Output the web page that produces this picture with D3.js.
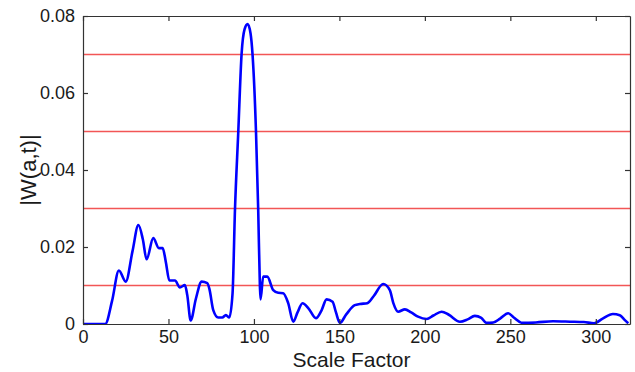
<!DOCTYPE html>
<html>
<head>
<meta charset="utf-8">
<script src="https://cdn.jsdelivr.net/npm/d3@7"></script>
<style>
  body { margin: 0; background: #fff; }
  svg text { font-family: "Liberation Sans", Arial, sans-serif; fill: #1a1a1a; }
</style>
</head>
<body>
<svg id="chart" width="635" height="372"></svg>
<script>
// scale factor (x) and |W(a,t)| (y)
const scaleFactor = [0, 5, 10, 13, 17, 21, 25, 29, 32.4, 35, 37.2, 41.1, 44.4, 46.6, 48.5, 50.5, 53.8, 56.7, 59.6, 61, 63,
  66, 69.4, 72.7, 74, 76.2, 79.1, 81.5, 83.6, 85.6, 87.5, 88.9, 90.8, 92.8, 94.5, 96.3, 98, 99.2, 101.2, 102.5,
  103.5, 103.9, 105.4, 107.8, 111.3, 114.2, 117.1, 120, 123, 125.5, 128.4, 132, 136.3, 139.5, 142.5, 146, 148, 150.3,
  154, 159, 162, 166.3, 170, 175.6, 179.5, 181.5, 184.4, 188.3, 192, 196, 201, 205, 209.8, 214, 220.5, 225, 229.2,
  233, 236, 240, 244, 248.7, 252, 257, 265, 275, 285, 293, 299, 304, 310, 314, 317, 319];
const magnitude = [0, 0, 0, 0, 0.006, 0.0139, 0.011, 0.019, 0.0257, 0.022, 0.0168, 0.0223, 0.0197, 0.0197, 0.016, 0.0113, 0.0113, 0.0095, 0.0101, 0.0075, 0.0009,
  0.0065, 0.011, 0.0106, 0.009, 0.0036, 0.0017, 0.0017, 0.0023, 0.0017, 0.008, 0.0296, 0.0495, 0.0703, 0.0765, 0.0779, 0.0755, 0.0699, 0.050, 0.0296,
  0.0097, 0.0064, 0.0123, 0.0123, 0.0088, 0.0081, 0.008, 0.0055, 0.0006, 0.003, 0.0054, 0.004, 0.0015, 0.0035, 0.0064, 0.0058, 0.003, 0.0003,
  0.0025, 0.0049, 0.0052, 0.0054, 0.0072, 0.0104, 0.0088, 0.0055, 0.0032, 0.0038, 0.003, 0.0019, 0.0013, 0.0022, 0.0032, 0.0024, 0.0006, 0.0012, 0.0021,
  0.0016, 0.0003, 0.0004, 0.0014, 0.0028, 0.0017, 0.0003, 0.0004, 0.0007, 0.0006, 0.0005, 0.0002, 0.0014, 0.0026, 0.0023, 0.001, 0.0002];

const thresholds = [0.01, 0.03, 0.05, 0.07];
const xTicks = [0, 50, 100, 150, 200, 250, 300];
const yTicks = [0, 0.02, 0.04, 0.06, 0.08];
const yTickLabels = ["0", "0.02", "0.04", "0.06", "0.08"];

const margin = {top: 16, right: 5, bottom: 48, left: 83},
    width = 635 - margin.left - margin.right,
    height = 372 - margin.top - margin.bottom;

const svg = d3.select("#chart");
const g = svg.append("g")
    .attr("transform", "translate(" + margin.left + "," + margin.top + ")");

const x = d3.scaleLinear().domain([0, 320]).range([0, width]);
const y = d3.scaleLinear().domain([0, 0.08]).range([height, 0]);

g.append("defs").append("clipPath").attr("id", "clip")
    .append("rect").attr("width", width).attr("height", height);

// threshold lines
g.selectAll(".thr")
    .data(thresholds)
    .enter()
    .append("line")
    .attr("class", "thr")
    .attr("x1", 0).attr("x2", width)
    .attr("y1", d => y(d)).attr("y2", d => y(d))
    .attr("stroke", "#f25656")
    .attr("stroke-width", 1.6);

const pts = scaleFactor.map((s, i) => [s, magnitude[i]]);
const line = d3.line()
    .x(d => x(d[0]))
    .y(d => y(d[1]))
    .curve(d3.curveMonotoneX);

g.append("path")
    .datum(pts)
    .attr("clip-path", "url(#clip)")
    .attr("fill", "none")
    .attr("stroke", "#0000ff")
    .attr("stroke-width", 2.6)
    .attr("stroke-linejoin", "round")
    .attr("d", line);

// MATLAB style box with inward ticks
const axisColor = "#333";
const xAxis = g.append("g")
    .attr("transform", "translate(0," + height + ")")
    .call(d3.axisBottom(x).tickValues(xTicks).tickSizeInner(-5).tickSizeOuter(0).tickPadding(6));
const xTop = g.append("g")
    .call(d3.axisTop(x).tickValues(xTicks).tickSizeInner(-5).tickSizeOuter(0).tickFormat(""));
const yAxis = g.append("g")
    .call(d3.axisLeft(y).tickValues(yTicks).tickSizeInner(-5).tickSizeOuter(0).tickPadding(8)
        .tickFormat((d, i) => yTickLabels[i]));
const yRight = g.append("g")
    .attr("transform", "translate(" + width + ",0)")
    .call(d3.axisRight(y).tickValues(yTicks).tickSizeInner(-5).tickSizeOuter(0).tickFormat(""));

[xAxis, xTop, yAxis, yRight].forEach(a => {
  a.selectAll("path, line").attr("stroke", axisColor).attr("stroke-width", 1.2);
  a.selectAll("text").style("font-size", "18px").attr("fill", "#1a1a1a");
});

g.append("text")
    .attr("x", width / 2 - 5)
    .attr("y", height + 43)
    .style("text-anchor", "middle")
    .style("font-size", "21px")
    .text("Scale Factor");

g.append("text")
    .attr("transform", "translate(" + -47 + "," + (height / 2) + ") rotate(-90)")
    .style("text-anchor", "middle")
    .style("font-size", "22px")
    .text("|W(a,t)|");
</script>
</body>
</html>
